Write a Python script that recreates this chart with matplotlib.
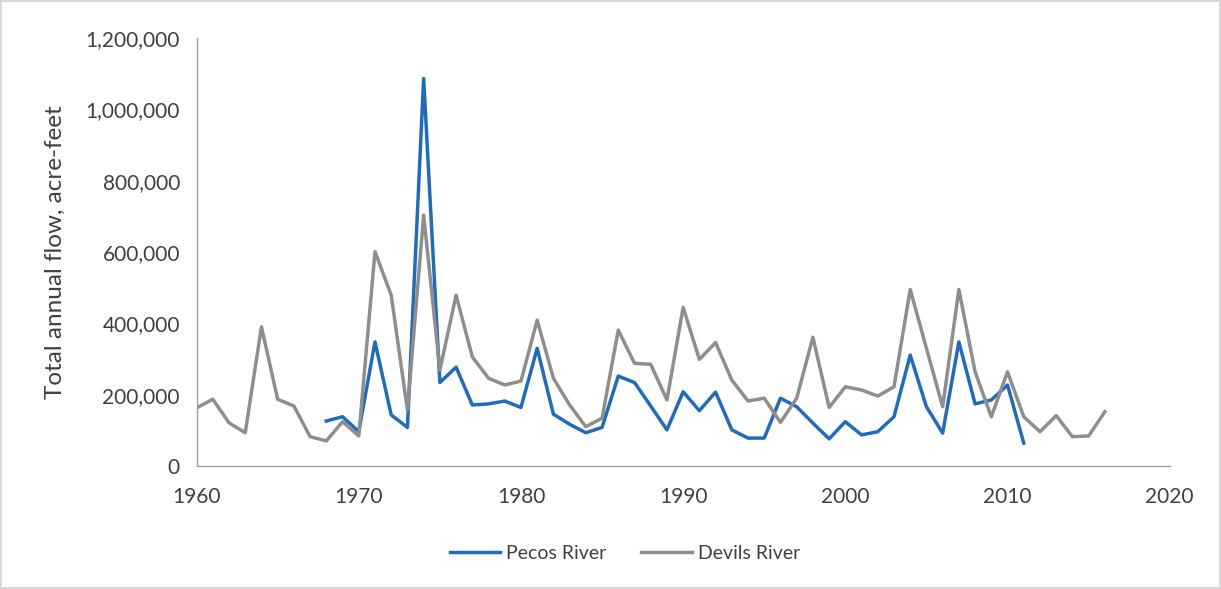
import matplotlib.pyplot as plt
import matplotlib.ticker as mticker

# Devils River, 1960-2016 (acre-feet)
devils_years = list(range(1960, 2017))
devils_flow = [163000, 187000, 121000, 93000, 390000, 187000, 168000, 82000, 70000, 124000,
               84000, 601000, 479000, 157000, 704000, 269000, 479000, 306000, 246000, 227000,
               238000, 409000, 246000, 171000, 110000, 134000, 381000, 288000, 285000, 185000,
               445000, 299000, 346000, 241000, 182000, 190000, 122000, 190000, 361000, 164000,
               222000, 213000, 196000, 222000, 495000, 330000, 166000, 495000, 264000, 138000,
               264000, 138000, 96000, 141000, 82000, 84000, 152000]

# Pecos River, 1968-2011 (acre-feet)
pecos_years = list(range(1968, 2012))
pecos_flow = [126000, 138000, 96000, 348000, 143000, 108000, 1087000, 234000, 277000, 171000,
              174000, 182000, 164000, 330000, 145000, 117000, 93000, 108000, 252000, 234000,
              168000, 101000, 208000, 155000, 207000, 101000, 78000, 78000, 190000, 166000,
              120000, 76000, 124000, 87000, 96000, 138000, 311000, 166000, 92000, 348000,
              174000, 185000, 227000, 64000]

plt.rcParams['font.family'] = ['Lato', 'DejaVu Sans']

fig = plt.figure(figsize=(12.21, 5.89), dpi=100)
ax = fig.add_axes([0.161, 0.209, 0.797, 0.726])

ax.plot(pecos_years, pecos_flow, color='#1f6cbf', lw=2.5, label='Pecos River')
ax.plot(devils_years, devils_flow, color='#8e8e8e', lw=2.5, label='Devils River')

ax.set_xlim(1960, 2020)
ax.set_ylim(0, 1200000)
ax.set_xticks(range(1960, 2021, 10))
ax.set_yticks(range(0, 1200001, 200000))
ax.yaxis.set_major_formatter(mticker.FuncFormatter(lambda v, p: f'{int(v):,}'))

for s in ['top', 'right']:
    ax.spines[s].set_visible(False)
for s in ['left', 'bottom']:
    ax.spines[s].set_color('#a0a0a0')
    ax.spines[s].set_linewidth(1.0)
ax.tick_params(length=0, labelsize=15, colors='#404040')
ax.tick_params(axis='x', pad=15)
ax.tick_params(axis='y', pad=12)
ax.set_ylabel('Total annual flow, acre-feet', fontsize=17.5, color='#404040', labelpad=14)

ax.legend(loc='center', bbox_to_anchor=(0.44, -0.205), ncol=2, frameon=False,
          fontsize=14, handlelength=2.6, handletextpad=0.3, columnspacing=1.8,
          labelcolor='#404040')

fig.patch.set_edgecolor('#d8d8d8')
fig.patch.set_linewidth(1.5)

fig.savefig('out.png', dpi=100, edgecolor=fig.get_edgecolor())
